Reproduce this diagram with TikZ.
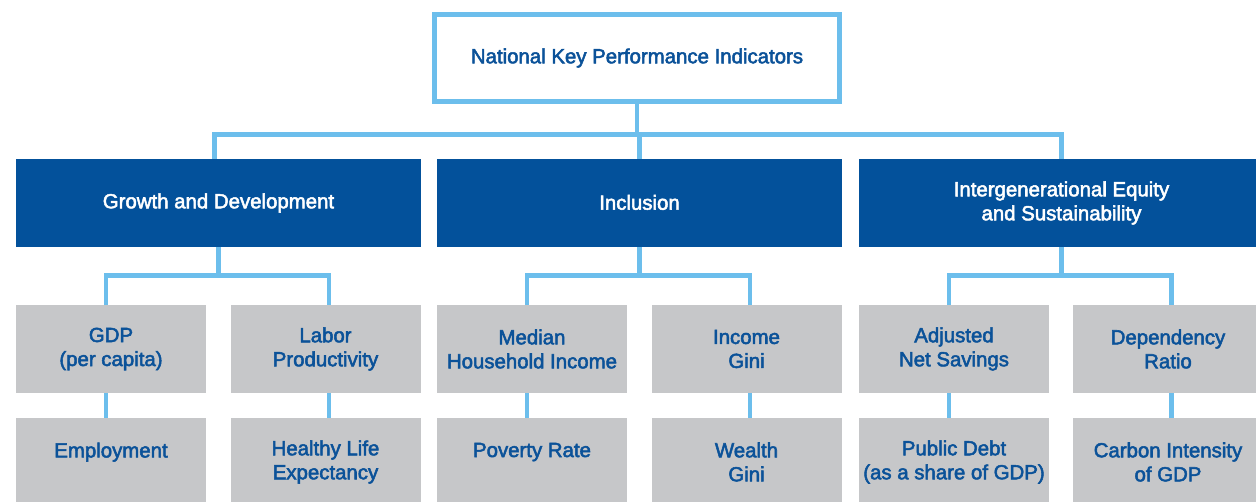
\documentclass[tikz,border=0pt]{standalone}
\usepackage{fontspec}
\setmainfont{Liberation Sans}
\newfontfamily\kpifont{Liberation Sans}[FakeBold=2.5]
\definecolor{lineblue}{HTML}{6CBEEC}
\definecolor{darkblue}{HTML}{03519B}
\definecolor{boxgray}{HTML}{C6C7C9}
\definecolor{textblue}{HTML}{0B5299}
\tikzset{
  conn/.style={draw=lineblue, line width=3.4pt},
  basebox/.style={inner sep=0pt, outer sep=0pt, align=center,
    font=\kpifont\fontsize{15.3}{18}\selectfont},
  topbox/.style={basebox, draw=lineblue, line width=3.4pt, fill=white,
    minimum width=304.1pt, minimum height=65.6pt, text=textblue},
  catbox/.style={basebox, fill=darkblue, text=white,
    minimum width=303.75pt, minimum height=66pt},
  kpibox/.style={basebox, fill=boxgray, text=textblue,
    minimum width=142.5pt, minimum height=66pt}
}
\begin{document}
\begin{tikzpicture}[x=0.75pt,y=-0.75pt]
\clip (0,0) rectangle (1256,502);
\fill[white] (0,0) rectangle (1256,502);
% nodes
\node[topbox] (top) at (637,58) {\raisebox{2pt}{National Key Performance Indicators}};
\node[catbox] (gd)  at (218.5,203) {\raisebox{1pt}{Growth and Development}};
\node[catbox] (inc) at (639.5,203) {\raisebox{1pt}{Inclusion}};
\node[catbox] (ies) at (1061.5,203) {Intergenerational Equity\\and Sustainability};
\node[kpibox] (gdp) at (111,349)   {GDP\\(per capita)};
\node[kpibox] (lab) at (325.5,349) {Labor\\Productivity};
\node[kpibox] (med) at (532,349)   {Median\\Household Income};
\node[kpibox] (ig)  at (746.5,349) {Income\\Gini};
\node[kpibox] (ans) at (954,349)   {Adjusted\\Net Savings};
\node[kpibox] (dep) at (1168,349)  {Dependency\\Ratio};
\node[kpibox] (emp) at (111,462)   {Employment\\\mbox{}};
\node[kpibox] (hle) at (325.5,462) {Healthy Life\\Expectancy};
\node[kpibox] (pov) at (532,462)   {Poverty Rate\\\mbox{}};
\node[kpibox] (wg)  at (746.5,462) {Wealth\\Gini};
\node[kpibox] (pd)  at (954,462)   {Public Debt\\(as a share of GDP)};
\node[kpibox] (ci)  at (1168,462)  {Carbon Intensity\\of GDP};
% connectors
\coordinate (bus) at (637,134.5);
\draw[conn] (top.south) -- (bus);
\draw[conn] ([xshift=-3pt]gd.north) |- (bus) -| (ies.north);
\draw[conn] (inc.north) -- (inc.north |- bus);
\foreach \p/\l/\r in {gd/gdp/lab, inc/med/ig, ies/ans/dep}{
  \coordinate (sb) at ([yshift=-21.4pt]\p.south);
  \draw[conn] (\p.south) -- (sb);
  \draw[conn] ([xshift=-3.75pt]\l.north) |- (sb) -| ([xshift=2.6pt]\r.north);
}
\foreach \a/\b in {gdp/emp, med/pov, ans/pd}{
  \draw[conn] ([xshift=-3.75pt]\a.south) -- ([xshift=-3.75pt]\b.north);
}
\foreach \a/\b in {lab/hle, ig/wg, dep/ci}{
  \draw[conn] ([xshift=2.6pt]\a.south) -- ([xshift=2.6pt]\b.north);
}
\end{tikzpicture}
\end{document}
